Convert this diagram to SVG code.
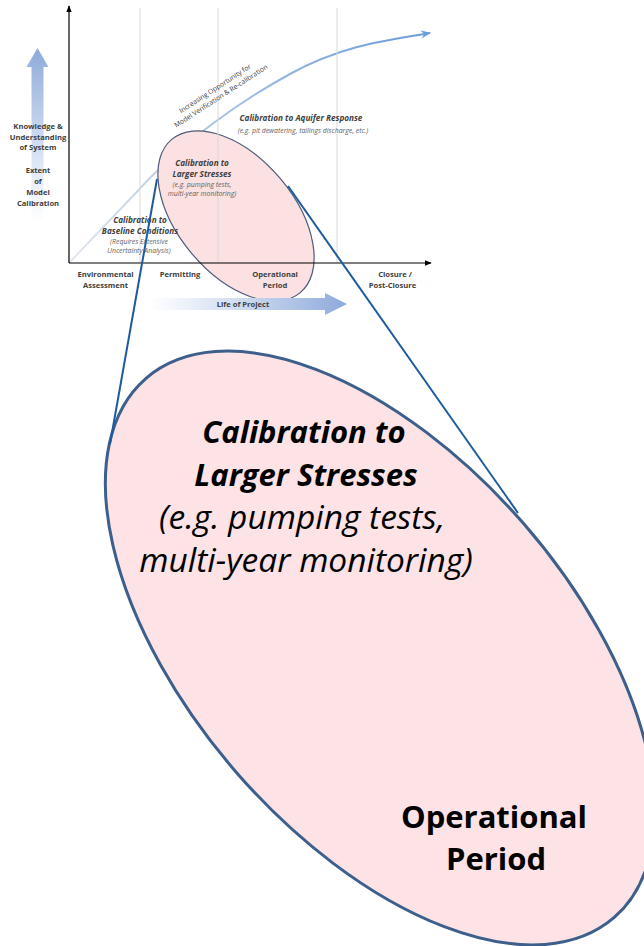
<svg xmlns="http://www.w3.org/2000/svg" width="644" height="946" viewBox="0 0 644 946">
  <defs>
    <style>
      text { font-family: "Open Sans", "Liberation Sans", sans-serif; }
      .lbl { font-size: 7.6px; font-weight: bold; fill: #404040; text-anchor: middle; }
      .cal { font-size: 8.2px; font-weight: bold; font-style: italic; fill: #404040; text-anchor: middle; }
      .sub { font-size: 6.9px; font-style: italic; fill: #5f5f5f; text-anchor: middle; }
      .grid { stroke: #d9d9d9; stroke-width: 1; fill: none; }
      .axis { stroke: #000; stroke-width: 1.2; fill: none; }
      .zoomline { stroke: #1d5b9e; stroke-width: 2; fill: none; }
      .big { font-size: 31px; fill: #000; text-anchor: middle; }
      .bigsub { font-size: 33.5px; font-style: italic; fill: #000; text-anchor: middle; }
    </style>
    <marker id="axisHead" viewBox="0 0 10 10" refX="9" refY="5" markerWidth="7" markerHeight="7" markerUnits="userSpaceOnUse" orient="auto">
      <path d="M0,1 L10,5 L0,9 Z" fill="#000"/>
    </marker>
    <marker id="curveHead" viewBox="0 0 10 10" refX="9" refY="5" markerWidth="10" markerHeight="10" markerUnits="userSpaceOnUse" orient="auto">
      <path d="M0,1 L10,5 L0,9 L3,5 Z" fill="#6a9bda"/>
    </marker>
    <linearGradient id="curveGrad" gradientUnits="userSpaceOnUse" x1="69" y1="263" x2="432" y2="33">
      <stop offset="0" stop-color="#e3e7ee"/>
      <stop offset="0.3" stop-color="#bcd0e9"/>
      <stop offset="1" stop-color="#6a9bda"/>
    </linearGradient>
    <linearGradient id="upGrad" x1="0" y1="1" x2="0" y2="0">
      <stop offset="0" stop-color="#ffffff"/>
      <stop offset="0.35" stop-color="#dde6f5"/>
      <stop offset="1" stop-color="#8eaadb"/>
    </linearGradient>
    <linearGradient id="rightGrad" x1="0" y1="0" x2="1" y2="0">
      <stop offset="0" stop-color="#ffffff"/>
      <stop offset="0.4" stop-color="#d6e0f2"/>
      <stop offset="1" stop-color="#8eaadb"/>
    </linearGradient>
  </defs>

  <rect width="644" height="946" fill="#ffffff"/>

  <!-- Small chart: rising knowledge curve -->
  <g id="knowledge-curve">
    <path d="M69,263 L150,178 C185,142 235,104 290,74 C345,44 390,40 430,33" stroke="url(#curveGrad)" stroke-width="2" fill="none" marker-end="url(#curveHead)"/>
  </g>

  <!-- Small ellipse over the operational period -->
  <g id="small-ellipse">
    <ellipse cx="236" cy="216" rx="100" ry="58" transform="rotate(50 236 216)" fill="#fbe1e2" stroke="#4e5b7a" stroke-width="1.2"/>
  </g>

  <!-- Phase gridlines -->
  <g id="gridlines">
    <line class="grid" x1="140" y1="8" x2="140" y2="263"/>
    <line class="grid" x1="218" y1="8" x2="218" y2="263"/>
    <line class="grid" x1="337" y1="8" x2="337" y2="263"/>
  </g>

  <!-- Axes -->
  <g id="axes">
    <line class="axis" x1="69" y1="263" x2="69" y2="6" marker-end="url(#axisHead)"/>
    <line class="axis" x1="69" y1="263" x2="431" y2="263" marker-end="url(#axisHead)"/>
  </g>

  <!-- Vertical knowledge arrow -->
  <g id="knowledge-arrow">
    <path d="M37.5,48 L48.5,67 L43.5,67 L43.5,222 L31.5,222 L31.5,67 L26.5,67 Z" fill="url(#upGrad)"/>
    <text class="lbl" x="38" y="129">Knowledge &amp;</text>
    <text class="lbl" x="38" y="139.5">Understanding</text>
    <text class="lbl" x="38" y="150">of System</text>
    <text class="lbl" x="38" y="173">Extent</text>
    <text class="lbl" x="38" y="183.5">of</text>
    <text class="lbl" x="38" y="195">Model</text>
    <text class="lbl" x="38" y="205.5">Calibration</text>
  </g>

  <!-- Curve label -->
  <g id="opportunity-label">
    <text transform="translate(217,90) rotate(-33)" font-size="6.8" fill="#404040" text-anchor="middle">
      <tspan x="0" y="0">Increasing Opportunity for</tspan>
      <tspan x="0" y="9.5">Model Verification &amp; Re-calibration</tspan>
    </text>
  </g>

  <!-- Calibration stages -->
  <g id="stage-aquifer">
    <text class="cal" x="301" y="121">Calibration to  Aquifer Response</text>
    <text class="sub" x="303" y="133" font-size="7.2">(e.g. pit dewatering, tailings discharge, etc.)</text>
  </g>
  <g id="stage-stresses">
    <text class="cal" x="202" y="166">Calibration to</text>
    <text class="cal" x="202" y="177">Larger Stresses</text>
    <text class="sub" x="202" y="186.5">(e.g. pumping tests,</text>
    <text class="sub" x="202" y="196">multi-year monitoring)</text>
  </g>
  <g id="stage-baseline">
    <text class="cal" x="140" y="223">Calibration to</text>
    <text class="cal" x="140" y="234">Baseline Conditions</text>
    <text class="sub" x="139" y="244">(Requires Extensive</text>
    <text class="sub" x="139" y="253">Uncertainty Analysis)</text>
  </g>

  <!-- Project phases -->
  <g id="phases">
    <text class="lbl" x="105.5" y="276.5">Environmental</text>
    <text class="lbl" x="105.5" y="287.5">Assessment</text>
    <text class="lbl" x="180" y="276.5">Permitting</text>
    <text class="lbl" x="275" y="276.5">Operational</text>
    <text class="lbl" x="275" y="287.5">Period</text>
    <text class="lbl" x="395" y="276.5">Closure /</text>
    <text class="lbl" x="392.5" y="287.5">Post-Closure</text>
  </g>

  <!-- Life of project arrow -->
  <g id="life-arrow">
    <path d="M150,298 L325,298 L325,293 L347,304 L325,315 L325,310 L150,310 Z" fill="url(#rightGrad)"/>
    <text class="lbl" x="243" y="307">Life of Project</text>
  </g>

  <!-- Enlarged ellipse -->
  <g id="big-ellipse">
    <ellipse cx="380" cy="648" rx="357" ry="190" transform="rotate(49 380 648)" fill="#fde3e5" stroke="#3d5f8c" stroke-width="3"/>
    <text class="big" x="304" y="443" font-weight="bold" font-style="italic">Calibration to</text>
    <text class="big" x="306" y="486" font-weight="bold" font-style="italic">Larger Stresses</text>
    <text class="bigsub" x="302" y="529">(e.g. pumping tests,</text>
    <text class="bigsub" x="306" y="572">multi-year monitoring)</text>
    <text class="big" x="494" y="828" font-weight="bold">Operational</text>
    <text class="big" x="496" y="870" font-weight="bold">Period</text>
  </g>

  <!-- Zoom connectors -->
  <g id="connectors">
    <line class="zoomline" x1="157" y1="179" x2="110" y2="444"/>
    <line class="zoomline" x1="288" y1="186" x2="518" y2="513"/>
  </g>
</svg>
